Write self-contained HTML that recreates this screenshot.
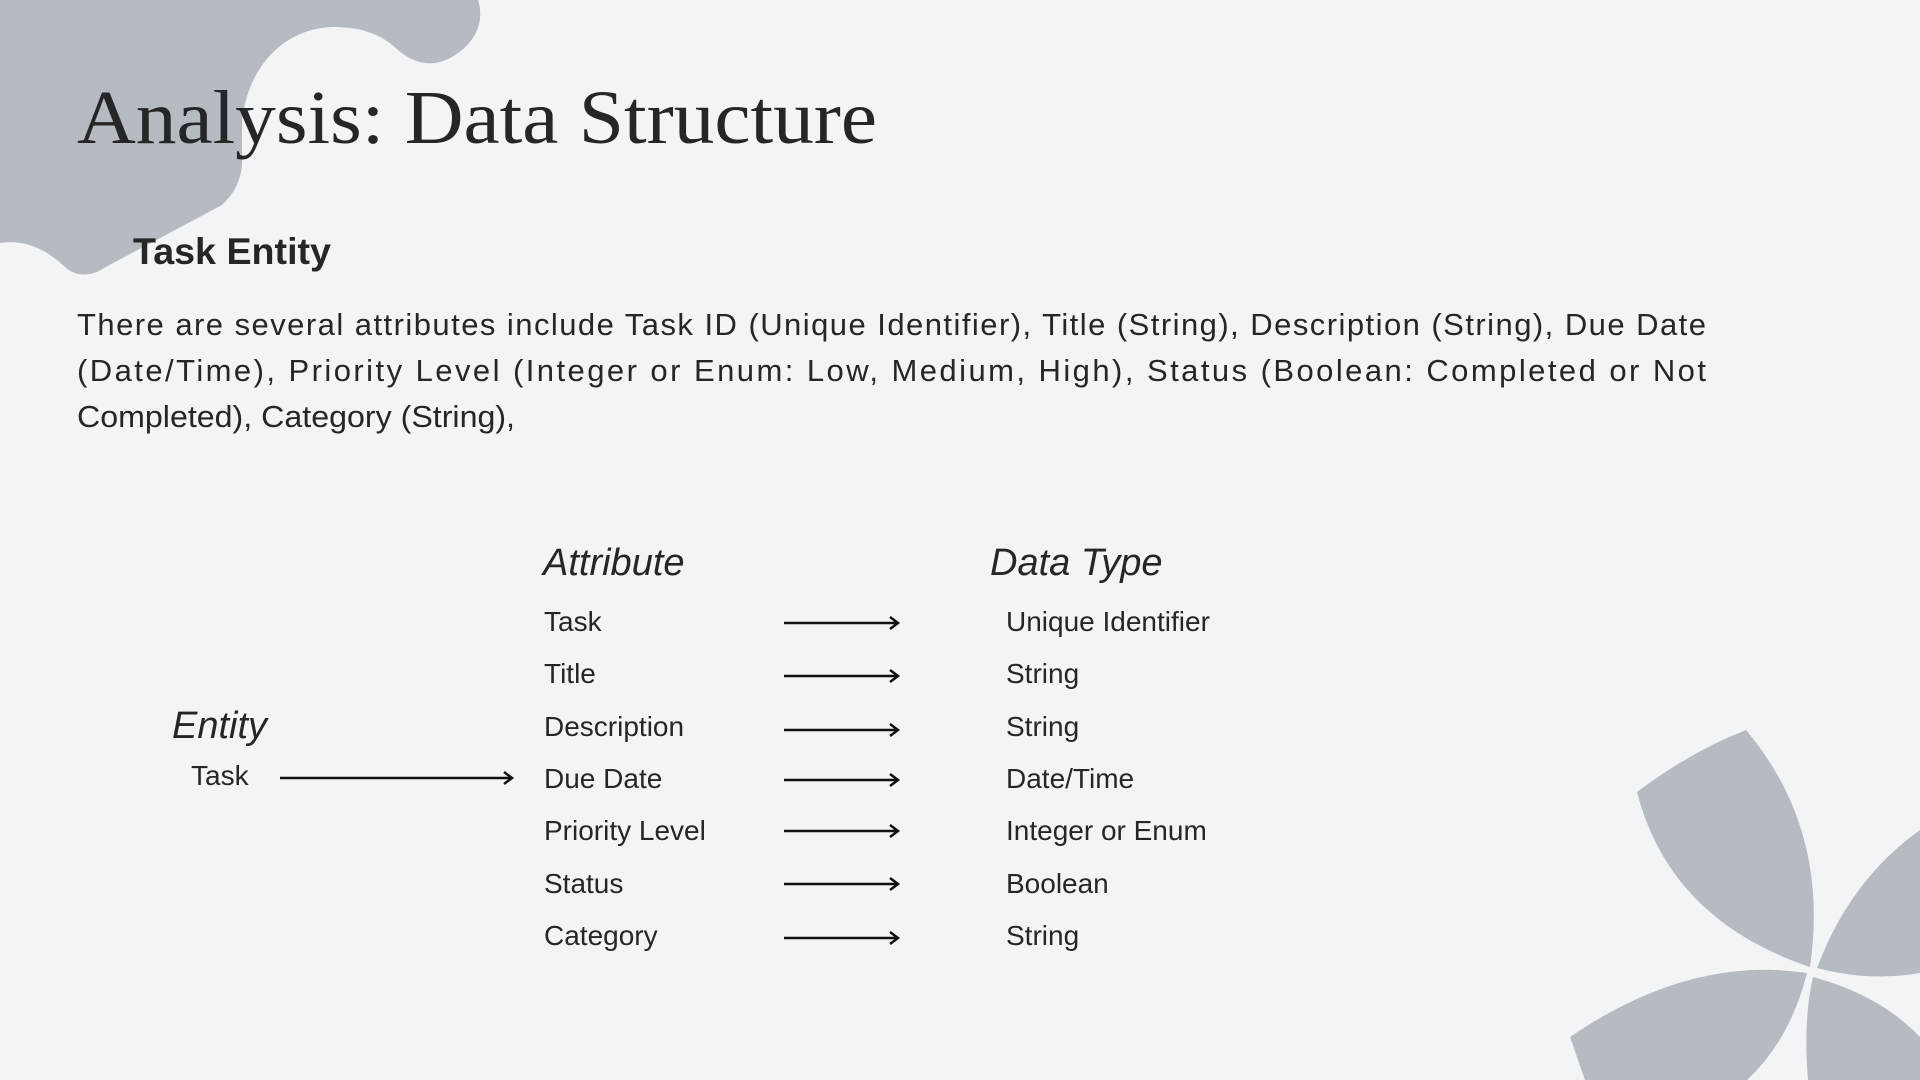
<!DOCTYPE html>
<html><head><meta charset="utf-8"><style>
html,body{margin:0;padding:0;background:#f3f4f6;}
svg{display:block}
text{fill:#262626;font-family:"Liberation Sans",sans-serif}
</style></head><body>
<svg width="1920" height="1080" viewBox="0 0 1920 1080" xmlns="http://www.w3.org/2000/svg">
<rect width="1920" height="1080" fill="#f3f4f6"/>
<g fill="#b6bbc1">
<path d="M0,0 L478,0 C486,25 472,48 446,60 C426,68 410,60 398,50 C380,33 360,27 331,27 C280,30 248,70 242,120 L242,165 C240,185 232,195 222,205 L104,268 C92,276 76,278 64,266 C42,246 22,240 0,243 Z"/>
<path d="M1637,792 Q1690,752 1746,730 Q1830,830 1810,967 Q1670,920 1637,792 Z"/>
<path d="M1817,968 Q1850,880 1920,830 L1920,973 Q1870,982 1817,968 Z"/>
<path d="M1570,1037 Q1690,955 1807,973 Q1790,1040 1747,1080 L1585,1080 Z"/>
<path d="M1813,977 Q1880,995 1920,1037 L1920,1080 L1808,1080 Q1803,1020 1813,977 Z"/>
</g>
<text x="77" y="143" font-size="76" textLength="800" lengthAdjust="spacingAndGlyphs" style="font-family:'Liberation Serif',serif">Analysis: Data Structure</text>
<text x="133" y="264" font-size="37" font-weight="bold" textLength="198" lengthAdjust="spacingAndGlyphs">Task Entity</text>
<g font-size="31">
<text x="77" y="335" textLength="1629" lengthAdjust="spacing">There are several attributes include Task ID (Unique Identifier), Title (String), Description (String), Due Date</text>
<text x="77" y="381" textLength="1629" lengthAdjust="spacing">(Date/Time), Priority Level (Integer or Enum: Low, Medium, High), Status (Boolean: Completed or Not</text>
<text x="77" y="427" textLength="438" lengthAdjust="spacingAndGlyphs">Completed), Category (String),</text>
</g>
<g font-size="38" font-style="italic">
<text x="543" y="575">Attribute</text>
<text x="990" y="575">Data Type</text>
<text x="172" y="738">Entity</text>
</g>
<g font-size="28">
<text x="191" y="785">Task</text>
<text x="544" y="631">Task</text>
<text x="544" y="683">Title</text>
<text x="544" y="736">Description</text>
<text x="544" y="788">Due Date</text>
<text x="544" y="840">Priority Level</text>
<text x="544" y="893">Status</text>
<text x="544" y="945">Category</text>
<text x="1006" y="631">Unique Identifier</text>
<text x="1006" y="683">String</text>
<text x="1006" y="736">String</text>
<text x="1006" y="788">Date/Time</text>
<text x="1006" y="840">Integer or Enum</text>
<text x="1006" y="893">Boolean</text>
<text x="1006" y="945">String</text>
</g>
<g stroke="#111" stroke-width="2.5" fill="none">
<path d="M280,778 H512 M504,772 L512,778 L504,784"/>
<path d="M784,623 H898 M890,617 L898,623 L890,629"/>
<path d="M784,676 H898 M890,670 L898,676 L890,682"/>
<path d="M784,730 H898 M890,724 L898,730 L890,736"/>
<path d="M784,780 H898 M890,774 L898,780 L890,786"/>
<path d="M784,831 H898 M890,825 L898,831 L890,837"/>
<path d="M784,884 H898 M890,878 L898,884 L890,890"/>
<path d="M784,938 H898 M890,932 L898,938 L890,944"/>
</g>
</svg>
</body></html>
